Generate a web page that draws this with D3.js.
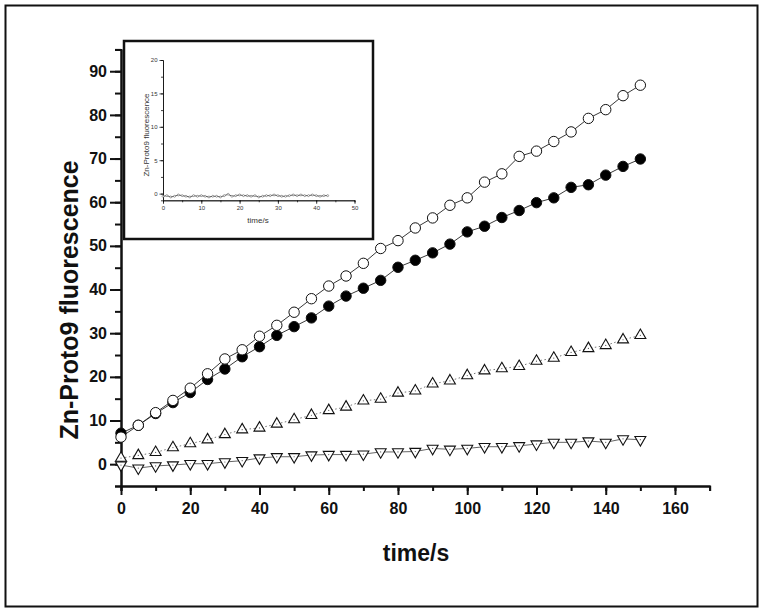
<!DOCTYPE html>
<html>
<head>
<meta charset="utf-8">
<script src="https://cdn.jsdelivr.net/npm/d3@7"></script>
<style>
  body { margin: 0; background: #fff; }
  svg { display: block; font-family: "Liberation Sans", Arial, sans-serif; }
</style>
</head>
<body>
<svg width="765" height="613"></svg>
<script>
// time points shared by all four main series
let times = [0, 5, 10, 15, 20, 25, 30, 35, 40, 45, 50, 55, 60, 65, 70, 75, 80, 85, 90, 95,
             100, 105, 110, 115, 120, 125, 130, 135, 140, 145, 150];

let openCircles = [6.2, 8.9, 11.8, 14.6, 17.4, 20.7, 24.1, 26.2, 29.3, 31.8, 34.8, 37.9, 40.8,
                   43.1, 46.0, 49.4, 51.2, 54.1, 56.4, 59.3, 61.0, 64.6, 66.5, 70.5, 71.7, 73.9,
                   76.1, 79.2, 81.2, 84.4, 86.8];
let filledCircles = [7.1, 8.9, 11.6, 14.1, 16.4, 19.4, 21.8, 24.6, 26.9, 29.5, 31.5, 33.5, 36.2,
                     38.5, 40.3, 42.1, 45.1, 46.7, 48.4, 50.4, 53.2, 54.5, 56.5, 58.1, 59.9, 61.0,
                     63.4, 64.0, 66.2, 68.2, 69.9];
let upTriangles = [1.4, 2.0, 2.7, 3.8, 4.7, 5.6, 6.8, 7.9, 8.3, 9.2, 10.2, 11.2, 12.3, 13.1,
                   14.5, 14.9, 16.3, 16.8, 18.4, 19.1, 20.3, 21.4, 21.9, 22.4, 23.6, 24.3, 25.6,
                   26.5, 27.2, 28.5, 29.5];
let downTriangles = [-0.2, -0.9, -0.4, -0.2, 0.1, 0.1, 0.5, 0.8, 1.4, 1.7, 1.7, 2.1, 2.2, 2.2,
                     2.3, 2.8, 2.8, 2.9, 3.6, 3.4, 3.6, 4.0, 4.0, 4.2, 4.6, 5.0, 5.0, 5.3, 5.0,
                     5.8, 5.6];

// inset (control) trace
let insetTimes = [0, 1, 2, 3, 4, 5, 6, 7, 8, 9, 10, 11, 12, 13, 14, 15, 16, 17, 18, 19, 20, 21,
                  22, 23, 24, 25, 26, 27, 28, 29, 30, 31, 32, 33, 34, 35, 36, 37, 38, 39, 40, 41,
                  42, 43];
let insetValues = [-0.4, -0.3, -0.5, -0.4, -0.2, -0.3, -0.4, -0.5, -0.3, -0.4, -0.3, -0.4, -0.5,
                   -0.4, -0.4, -0.5, -0.3, -0.1, -0.4, -0.3, -0.2, -0.3, -0.3, -0.4, -0.3, -0.5,
                   -0.4, -0.3, -0.3, -0.2, -0.3, -0.4, -0.4, -0.3, -0.2, -0.3, -0.2, -0.3, -0.3,
                   -0.2, -0.3, -0.4, -0.3, -0.3];

let xMajor = [0, 20, 40, 60, 80, 100, 120, 140, 160];
let yMajor = [0, 10, 20, 30, 40, 50, 60, 70, 80, 90];
let insetXMajor = [0, 10, 20, 30, 40, 50];
let insetYMajor = [0, 5, 10, 15, 20];

let svg = d3.select('svg');

svg.append('rect')
	.attr('x', 5.5).attr('y', 5.5)
	.attr('width', 752).attr('height', 601)
	.attr('fill', 'none').attr('stroke', '#111').attr('stroke-width', 2);

let x = d3.scaleLinear().domain([0, 170]).range([121, 709.6]);
let y = d3.scaleLinear().domain([-5, 95]).range([486, 49.4]);

function styleAxis(g, width) {
	g.select('.domain').attr('stroke', '#111').attr('stroke-width', width);
	g.selectAll('line').attr('stroke', '#111').attr('stroke-width', width);
}

// minor ticks first, then the labelled major ticks
let gxMinor = svg.append('g')
	.attr('transform', `translate(0,${y(-5)})`)
	.call(d3.axisBottom(x).tickValues(d3.range(0, 171, 10)).tickSize(5).tickFormat(''));
styleAxis(gxMinor, 2);

let gx = svg.append('g')
	.attr('transform', `translate(0,${y(-5)})`)
	.call(d3.axisBottom(x).tickValues(xMajor).tickSize(9).tickPadding(8).tickSizeOuter(0));
styleAxis(gx, 2);
gx.selectAll('text').attr('font-size', 16).attr('font-weight', 'bold').attr('fill', '#111');

let gyMinor = svg.append('g')
	.attr('transform', `translate(${x(0)},0)`)
	.call(d3.axisLeft(y).tickValues(d3.range(-5, 96, 5)).tickSize(6).tickFormat(''));
styleAxis(gyMinor, 2);

let gy = svg.append('g')
	.attr('transform', `translate(${x(0)},0)`)
	.call(d3.axisLeft(y).tickValues(yMajor).tickSize(11).tickPadding(3).tickSizeOuter(0));
styleAxis(gy, 2);
gy.selectAll('text').attr('font-size', 16).attr('font-weight', 'bold').attr('fill', '#111');

svg.append('text')
	.attr('transform', 'translate(78,300) rotate(-90)')
	.attr('text-anchor', 'middle')
	.attr('font-size', 25).attr('font-weight', 'bold').attr('fill', '#111')
	.text('Zn-Proto9 fluorescence');

svg.append('text')
	.attr('x', 416).attr('y', 561)
	.attr('text-anchor', 'middle')
	.attr('font-size', 23).attr('font-weight', 'bold').attr('fill', '#111')
	.text('time/s');

// series
let series = [
	{values: downTriangles, shape: 'down', line: '#555', dash: null},
	{values: upTriangles, shape: 'up', line: '#666', dash: '1.5,2.5'},
	{values: filledCircles, shape: 'filled', line: '#222', dash: null},
	{values: openCircles, shape: 'open', line: '#222', dash: null}
];

let line = d3.line().x(d => x(d[0])).y(d => y(d[1]));
let triUp = d3.symbol().type(d3.symbolTriangle).size(52);

series.forEach(s => {
	let pts = times.map((t, i) => [t, s.values[i]]);
	svg.append('path')
		.datum(pts)
		.attr('d', line)
		.attr('fill', 'none')
		.attr('stroke', s.line)
		.attr('stroke-width', 0.9)
		.attr('stroke-dasharray', s.dash);

	let g = svg.append('g');
	if (s.shape === 'open' || s.shape === 'filled') {
		g.selectAll('circle')
			.data(pts)
			.join('circle')
			.attr('cx', d => x(d[0]))
			.attr('cy', d => y(d[1]))
			.attr('r', 5.2)
			.attr('fill', s.shape === 'filled' ? '#000' : '#fff')
			.attr('stroke', '#111')
			.attr('stroke-width', 1);
	} else {
		g.selectAll('path')
			.data(pts)
			.join('path')
			.attr('d', triUp)
			.attr('transform', d => `translate(${x(d[0])},${y(d[1])})` + (s.shape === 'down' ? ' rotate(180)' : ''))
			.attr('fill', '#fff')
			.attr('stroke', '#111')
			.attr('stroke-width', 1.1);
		g.selectAll('circle')
			.data(pts)
			.join('circle')
			.attr('cx', d => x(d[0]))
			.attr('cy', d => y(d[1]))
			.attr('r', 0.6)
			.attr('fill', '#555');
	}
});

// inset
let inset = svg.append('g');
inset.append('rect')
	.attr('x', 124).attr('y', 41)
	.attr('width', 249).attr('height', 198)
	.attr('fill', '#fff').attr('stroke', '#111').attr('stroke-width', 2.5);

let ix = d3.scaleLinear().domain([0, 50]).range([163, 354.5]);
let iy = d3.scaleLinear().domain([-1, 20]).range([200.3, 60]);

let igxMinor = inset.append('g')
	.attr('transform', `translate(0,${iy(-1)})`)
	.call(d3.axisBottom(ix).tickValues(d3.range(0, 51, 5)).tickSize(2).tickFormat(''));
styleAxis(igxMinor, 0.8);
let igx = inset.append('g')
	.attr('transform', `translate(0,${iy(-1)})`)
	.call(d3.axisBottom(ix).tickValues(insetXMajor).tickSize(3.5).tickPadding(1.5).tickSizeOuter(0));
styleAxis(igx, 0.8);
igx.selectAll('text').attr('font-size', 6).attr('fill', '#333');

let igyMinor = inset.append('g')
	.attr('transform', `translate(${ix(0)},0)`)
	.call(d3.axisLeft(iy).tickValues(d3.range(0, 20.1, 2.5)).tickSize(2).tickFormat(''));
styleAxis(igyMinor, 0.8);
let igy = inset.append('g')
	.attr('transform', `translate(${ix(0)},0)`)
	.call(d3.axisLeft(iy).tickValues(insetYMajor).tickSize(3.5).tickPadding(2).tickSizeOuter(0));
styleAxis(igy, 0.8);
igy.selectAll('text').attr('font-size', 6).attr('fill', '#333');

inset.append('text')
	.attr('transform', 'translate(149,135) rotate(-90)')
	.attr('text-anchor', 'middle')
	.attr('font-size', 8).attr('fill', '#333')
	.text('Zn-Proto9 fluorescence');

inset.append('text')
	.attr('x', 258).attr('y', 223)
	.attr('text-anchor', 'middle')
	.attr('font-size', 8).attr('fill', '#333')
	.text('time/s');

let insetPts = insetTimes.map((t, i) => [t, insetValues[i]]);
inset.append('path')
	.datum(insetPts)
	.attr('d', d3.line().x(d => ix(d[0])).y(d => iy(d[1])))
	.attr('fill', 'none').attr('stroke', '#333').attr('stroke-width', 0.8);
inset.selectAll('circle.pt')
	.data(insetPts)
	.join('circle')
	.attr('class', 'pt')
	.attr('cx', d => ix(d[0]))
	.attr('cy', d => iy(d[1]))
	.attr('r', 1)
	.attr('fill', '#fff').attr('stroke', '#555').attr('stroke-width', 0.5);
</script>
</body>
</html>
